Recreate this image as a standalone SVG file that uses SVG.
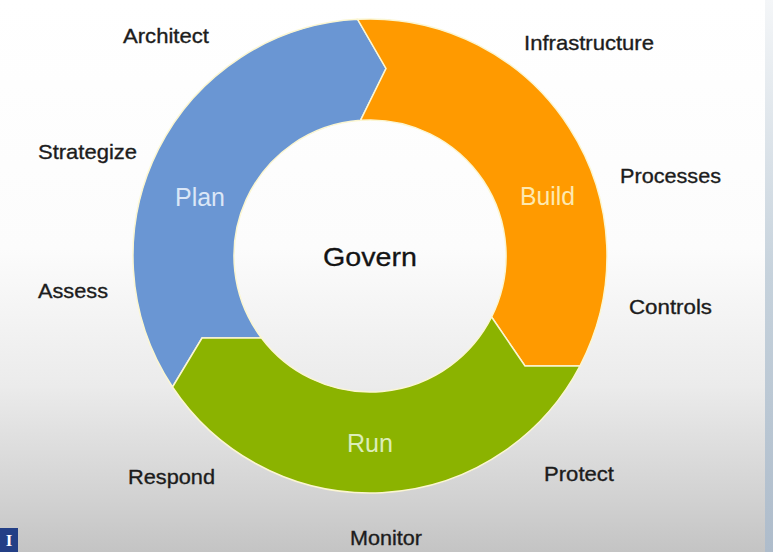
<svg xmlns="http://www.w3.org/2000/svg" width="773" height="552" viewBox="0 0 773 552">
  <defs>
    <linearGradient id="bg" x1="0" y1="0" x2="0" y2="1">
      <stop offset="0" stop-color="#ffffff"/>
      <stop offset="0.45" stop-color="#fcfcfc"/>
      <stop offset="0.7" stop-color="#ebebeb"/>
      <stop offset="0.9" stop-color="#d2d2d2"/>
      <stop offset="1" stop-color="#c4c4c4"/>
    </linearGradient>
    <linearGradient id="edge" x1="0" y1="0" x2="0" y2="1">
      <stop offset="0" stop-color="#f4f6f8"/>
      <stop offset="0.5" stop-color="#c6d2dc"/>
      <stop offset="1" stop-color="#aebccb"/>
    </linearGradient>
    <style>
      .seg { stroke: #fbf6d2; stroke-width: 1.5; stroke-linejoin: miter; }
      .lbl { font-family: "Liberation Sans", Arial, sans-serif; font-size: 21px; fill: #1c1c1c; stroke: #1c1c1c; stroke-width: 0.35; }
      .phase { font-family: "Liberation Sans", Arial, sans-serif; font-size: 25px; }
      .core { font-family: "Liberation Sans", Arial, sans-serif; font-size: 26px; fill: #141414; stroke: #141414; stroke-width: 0.3; }
    </style>
  </defs>

  <!-- backdrop -->
  <rect x="0" y="0" width="773" height="552" fill="url(#bg)"/>
  <rect x="765" y="0" width="8" height="552" fill="url(#edge)"/>

  <!-- ring segments, drawn clockwise: Plan -> Build -> Run -->
  <g id="plan">
    <path class="seg" fill="#6a96d3" d="M172.5,387 A237,237 0 0 1 357.6,19.3 L386,68.5 L360.5,120.3 A136,136 0 0 0 261.5,338 L202,338 Z"/>
    <text class="phase" x="175" y="206" textLength="50" lengthAdjust="spacingAndGlyphs" fill="#dbe7f7">Plan</text>
  </g>
  <g id="build">
    <path class="seg" fill="#ff9a00" d="M357.6,19.3 A237,237 0 0 1 579.9,366 L525,366 L491.6,317 A136,136 0 0 0 360.5,120.3 L386,68.5 Z"/>
    <text class="phase" x="520" y="205" textLength="55" lengthAdjust="spacingAndGlyphs" fill="#fde9b0">Build</text>
  </g>
  <g id="run">
    <path class="seg" fill="#8bb300" d="M579.9,366 A237,237 0 0 1 172.5,387 L202,338 L261.5,338 A136,136 0 0 0 491.6,317 L525,366 Z"/>
    <text class="phase" x="347" y="452" textLength="46" lengthAdjust="spacingAndGlyphs" fill="#dcedb8">Run</text>
  </g>

  <g id="govern">
    <text class="core" x="323" y="266" textLength="94" lengthAdjust="spacingAndGlyphs">Govern</text>
  </g>

  <!-- activity labels around the ring -->
  <g id="labels">
    <text class="lbl" x="123" y="43" textLength="86" lengthAdjust="spacingAndGlyphs">Architect</text>
    <text class="lbl" x="524" y="50" textLength="130" lengthAdjust="spacingAndGlyphs">Infrastructure</text>
    <text class="lbl" x="38" y="159" textLength="99" lengthAdjust="spacingAndGlyphs">Strategize</text>
    <text class="lbl" x="620" y="183" textLength="101" lengthAdjust="spacingAndGlyphs">Processes</text>
    <text class="lbl" x="38" y="298" textLength="70" lengthAdjust="spacingAndGlyphs">Assess</text>
    <text class="lbl" x="629" y="314" textLength="83" lengthAdjust="spacingAndGlyphs">Controls</text>
    <text class="lbl" x="128" y="484" textLength="87" lengthAdjust="spacingAndGlyphs">Respond</text>
    <text class="lbl" x="544" y="481" textLength="70" lengthAdjust="spacingAndGlyphs">Protect</text>
    <text class="lbl" x="350" y="545" textLength="72" lengthAdjust="spacingAndGlyphs">Monitor</text>
  </g>

  <!-- corner badge -->
  <g id="badge">
    <rect x="0" y="528" width="18" height="24" fill="#233f86"/>
    <text x="9" y="546" text-anchor="middle" font-family="Liberation Serif, serif" font-weight="bold" font-size="17" fill="#ffffff">I</text>
  </g>
</svg>
